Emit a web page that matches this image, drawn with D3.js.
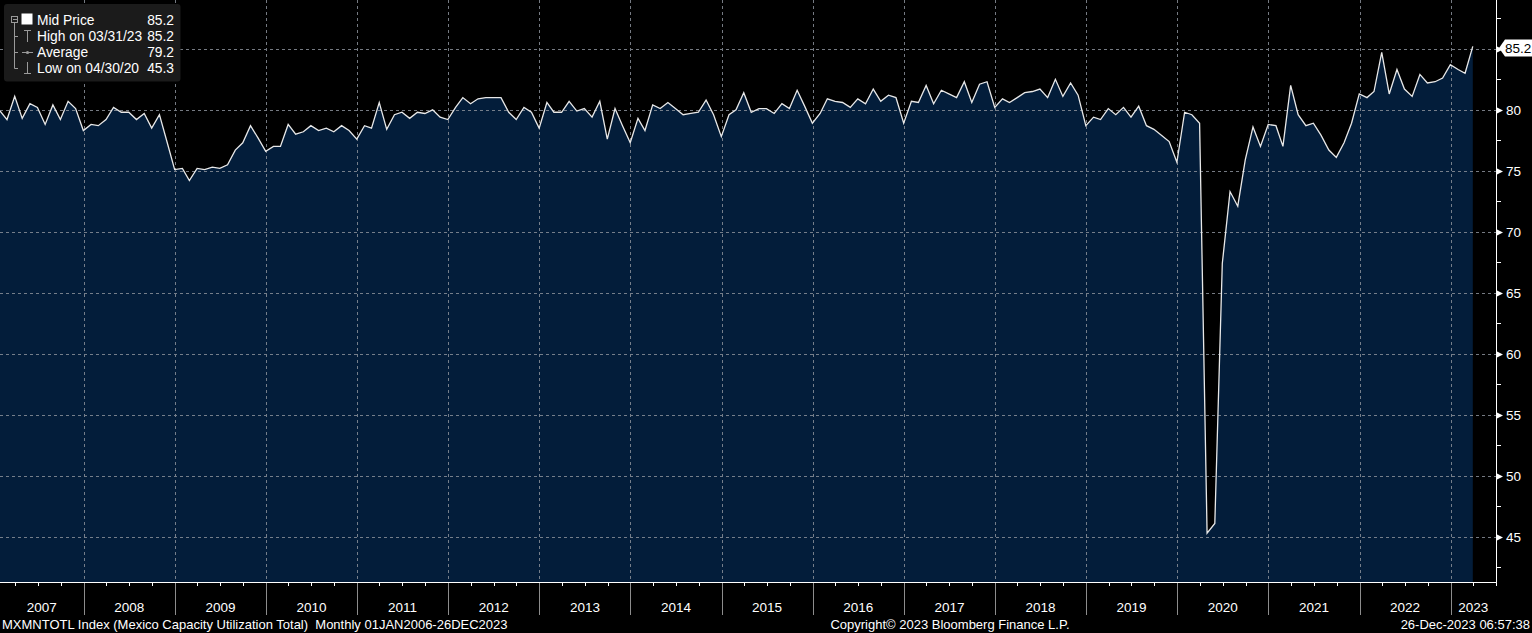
<!DOCTYPE html>
<html><head><meta charset="utf-8">
<script src="https://cdn.jsdelivr.net/npm/d3@7"></script>
<style>html,body{margin:0;padding:0;background:#000;overflow:hidden}svg{display:block}</style>
</head><body>
<svg id="c" width="1532" height="633"></svg>
<script>
// ---- data: Mexico capacity utilization, month-end values ----
const firstYear = 2007;
const v2007 = [79.9, 79.2, 81.1, 79.3, 80.5, 80.2, 78.8, 80.4, 79.2, 80.7, 80.1, 78.3];
const v2008 = [78.8, 78.7, 79.2, 80.2, 79.8, 79.8, 79.2, 79.7, 78.5, 79.6, 77.4, 75.1];
const v2009 = [75.2, 74.2, 75.2, 75.1, 75.3, 75.2, 75.5, 76.7, 77.3, 78.7, 77.7, 76.6];
const v2010 = [77.0, 77.0, 78.8, 78.0, 78.2, 78.7, 78.3, 78.5, 78.2, 78.7, 78.3, 77.6];
const v2011 = [78.7, 78.5, 80.6, 78.4, 79.6, 79.8, 79.3, 79.8, 79.7, 80.0, 79.4, 79.2];
const v2012 = [80.2, 81.0, 80.5, 80.9, 81.0, 81.0, 81.0, 79.8, 79.2, 80.2, 79.8, 78.5];
const v2013 = [80.6, 79.8, 79.8, 80.7, 79.9, 80.1, 79.4, 80.7, 77.6, 80.1, 78.7, 77.3];
const v2014 = [79.3, 78.3, 80.4, 80.1, 80.6, 80.1, 79.6, 79.7, 79.8, 80.8, 79.6, 77.8];
const v2015 = [79.6, 80.0, 81.4, 79.8, 80.1, 80.1, 79.7, 80.5, 80.1, 81.6, 80.3, 78.9];
const v2016 = [79.7, 80.9, 80.7, 80.6, 80.2, 80.9, 80.5, 81.7, 80.7, 81.2, 81.0, 78.9];
const v2017 = [80.7, 80.6, 82.0, 80.5, 81.6, 81.3, 81.0, 82.3, 80.6, 82.1, 82.3, 80.2];
const v2018 = [80.9, 80.6, 81.0, 81.4, 81.5, 81.7, 81.0, 82.5, 81.1, 82.2, 81.2, 78.7];
const v2019 = [79.4, 79.2, 80.1, 79.6, 80.2, 79.4, 80.3, 78.7, 78.4, 77.9, 77.4, 75.7];
const v2020 = [79.8, 79.6, 78.9, 45.3, 46.1, 67.4, 73.3, 72.1, 75.9, 78.6, 77.0, 78.8];
const v2021 = [78.7, 77.0, 82.0, 79.6, 78.7, 78.9, 77.9, 76.7, 76.1, 77.3, 78.9, 81.3];
const v2022 = [81.0, 81.5, 84.7, 81.3, 83.3, 81.7, 81.1, 82.9, 82.2, 82.3, 82.6, 83.7];
const v2023 = [83.3, 83.0, 85.2];

const yMajorTicks = [45, 50, 55, 60, 65, 70, 75, 80, 85];
const yMinorTicks = [42.5, 47.5, 52.5, 57.5, 62.5, 67.5, 72.5, 77.5, 82.5, 87.5];
const yearLabels = [2007,2008,2009,2010,2011,2012,2013,2014,2015,2016,2017,2018,2019,2020,2021,2022,2023];
const legendLabels = ["Mid Price", "High on 03/31/23", "Average", "Low on 04/30/20"];
const legendValues = ["85.2", "85.2", "79.2", "45.3"];
const lastValueLabel = "85.2";
const footerLeft = "MXMNTOTL Index (Mexico Capacity Utilization Total)  Monthly 01JAN2006-26DEC2023";
const footerMid = "Copyright\u00A9 2023 Bloomberg Finance L.P.";
const footerRight = "26-Dec-2023 06:57:38";

// ---- build table ----
const allValues = [].concat(v2007, v2008, v2009, v2010, v2011, v2012, v2013, v2014,
  v2015, v2016, v2017, v2018, v2019, v2020, v2021, v2022, v2023);
const data = allValues.map((v, i) => ({ date: new Date(Date.UTC(firstYear, i + 1, 0)), v }));

// ---- layout ----
const W = 1532, H = 633;
const plotL = 0, plotR = 1496, plotT = 0, plotB = 582;
const FONT = "'Liberation Sans', Arial, sans-serif";

const svg = d3.select("#c");
svg.append("rect").attr("width", W).attr("height", H).attr("fill", "#000");

const x = d3.scaleUtc()
  .domain([new Date(Date.UTC(2007, 0, 31)), new Date(Date.UTC(2023, 6, 2))])
  .range([plotL, plotR]);
const y = d3.scaleLinear().domain([41.3, 89.0]).range([plotB, plotT]);

// area
const area = d3.area().x(d => x(d.date)).y0(plotB).y1(d => y(d.v));
svg.append("path").datum(data).attr("d", area).attr("fill", "#031d3a");

// grid
const yearStarts = yearLabels.slice(1).map(yr => new Date(Date.UTC(yr, 0, 1)));
const grid = svg.append("g").attr("stroke", "#8a9099").attr("stroke-width", 1)
  .attr("stroke-dasharray", "3,3").attr("opacity", 0.85);
grid.selectAll("line.h").data(yMajorTicks).join("line")
  .attr("x1", plotL).attr("x2", plotR)
  .attr("y1", d => Math.round(y(d)) + 0.5).attr("y2", d => Math.round(y(d)) + 0.5);
grid.selectAll("line.v").data(yearStarts).join("line")
  .attr("x1", d => Math.round(x(d)) + 0.5).attr("x2", d => Math.round(x(d)) + 0.5)
  .attr("y1", plotT).attr("y2", plotB);

// line
const line = d3.line().x(d => x(d.date)).y(d => y(d.v));
svg.append("path").datum(data).attr("d", line).attr("fill", "none")
  .attr("stroke", "#e8e8e8").attr("stroke-width", 1.3).attr("stroke-linejoin", "miter");

// right axis
svg.append("line").attr("x1", plotR + 0.5).attr("x2", plotR + 0.5)
  .attr("y1", 0).attr("y2", plotB + 0.5).attr("stroke", "#fff").attr("stroke-width", 1);
const ra = svg.append("g");
ra.selectAll("path.tri").data(yMajorTicks).join("path")
  .attr("d", d => { const yy = Math.round(y(d)) + 0.5; return `M${plotR + 1},${yy - 3}L${plotR + 7},${yy}L${plotR + 1},${yy + 3}Z`; })
  .attr("fill", "#fff");
ra.selectAll("line.minor").data(yMinorTicks).join("line")
  .attr("x1", plotR).attr("x2", plotR + 5)
  .attr("y1", d => Math.round(y(d)) + 0.5).attr("y2", d => Math.round(y(d)) + 0.5)
  .attr("stroke", "#fff");
ra.selectAll("text").data(yMajorTicks.filter(d => d !== 85)).join("text")
  .attr("x", plotR + 10).attr("y", d => y(d)).attr("dy", "0.36em")
  .attr("fill", "#fff").attr("font-family", FONT).attr("font-size", 13.5)
  .text(d => d);

// last value tag
const lastY = Math.round(y(data[data.length - 1].v)) + 0.5 + 1.5;
svg.append("path")
  .attr("d", `M${plotR + 3},${lastY}L${plotR + 9},${lastY - 8.5}L${W + 2},${lastY - 8.5}L${W + 2},${lastY + 8.5}L${plotR + 9},${lastY + 8.5}Z`)
  .attr("fill", "#fff");
svg.append("text").attr("x", plotR + 9).attr("y", lastY).attr("dy", "0.36em")
  .attr("fill", "#000").attr("font-family", FONT).attr("font-size", 13.5).text(lastValueLabel);

// bottom axis
svg.append("line").attr("x1", 0).attr("x2", plotR + 1).attr("y1", plotB + 0.5).attr("y2", plotB + 0.5)
  .attr("stroke", "#fff");
const quarterTicks = d3.utcMonth.every(3).range(x.domain()[0], x.domain()[1]);
svg.append("g").selectAll("line").data(quarterTicks).join("line")
  .attr("x1", d => Math.round(x(d)) + 0.5).attr("x2", d => Math.round(x(d)) + 0.5)
  .attr("y1", plotB).attr("y2", plotB + 4).attr("stroke", "#fff");
svg.append("g").selectAll("line").data(yearStarts).join("line")
  .attr("x1", d => Math.round(x(d)) + 0.5).attr("x2", d => Math.round(x(d)) + 0.5)
  .attr("y1", plotB + 1).attr("y2", plotB + 33).attr("stroke", "#8c8c8c");
svg.append("g").selectAll("text").data(yearLabels).join("text")
  .attr("x", yr => {
    const a = Math.max(x.range()[0], x(new Date(Date.UTC(yr, 0, 1))));
    const b = Math.min(x.range()[1], x(new Date(Date.UTC(yr + 1, 0, 1))));
    return (a + b) / 2;
  })
  .attr("y", 612).attr("text-anchor", "middle")
  .attr("fill", "#fff").attr("font-family", FONT).attr("font-size", 13.5)
  .text(d => d);

// footer
const ft = svg.append("g").attr("fill", "#fff").attr("font-family", FONT).attr("font-size", 13);
ft.append("text").attr("x", 2).attr("y", 629).text(footerLeft).style("white-space", "pre");
ft.append("text").attr("x", 950).attr("y", 629).attr("text-anchor", "middle").text(footerMid);
ft.append("text").attr("x", 1530).attr("y", 629).attr("text-anchor", "end").text(footerRight);

// legend
const lg = svg.append("g");
lg.append("rect").attr("x", 4).attr("y", 4).attr("width", 176.5).attr("height", 77.5)
  .attr("rx", 3).attr("fill", "#1b1b1b");
const rowY = [20.5, 36.5, 52.5, 68.5];
lg.selectAll("text.lab").data(legendLabels).join("text")
  .attr("x", 37).attr("y", (d, i) => rowY[i]).attr("dy", "0.36em")
  .attr("fill", "#fff").attr("font-family", FONT).attr("font-size", 13.8).text(d => d);
lg.selectAll("text.val").data(legendValues).join("text")
  .attr("x", 174).attr("y", (d, i) => rowY[i]).attr("dy", "0.36em").attr("text-anchor", "end")
  .attr("fill", "#fff").attr("font-family", FONT).attr("font-size", 13.8).text(d => d);
const ic = lg.append("g").attr("stroke", "#9a9a9a").attr("fill", "none").attr("stroke-width", 1);
ic.append("rect").attr("x", 11.5).attr("y", 16.5).attr("width", 6).attr("height", 6);
ic.append("line").attr("x1", 13).attr("x2", 17).attr("y1", 19.5).attr("y2", 19.5);
ic.append("line").attr("x1", 14.5).attr("x2", 14.5).attr("y1", 23).attr("y2", 68.5);
[36.5, 52.5, 68.5].forEach(yy => ic.append("line").attr("x1", 14.5).attr("x2", 18).attr("y1", yy).attr("y2", yy));
lg.append("rect").attr("x", 21.5).attr("y", 13.5).attr("width", 11).attr("height", 11).attr("fill", "#fff");
// high icon
ic.append("line").attr("x1", 24).attr("x2", 31).attr("y1", 30.5).attr("y2", 30.5);
ic.append("line").attr("x1", 27.5).attr("x2", 27.5).attr("y1", 30.5).attr("y2", 42);
// average icon
ic.append("line").attr("x1", 22).attr("x2", 33).attr("y1", 52.5).attr("y2", 52.5);
lg.append("circle").attr("cx", 27.5).attr("cy", 52.5).attr("r", 1.6).attr("fill", "#9a9a9a");
// low icon
ic.append("line").attr("x1", 27.5).attr("x2", 27.5).attr("y1", 62).attr("y2", 73.5);
ic.append("line").attr("x1", 24).attr("x2", 31).attr("y1", 73.5).attr("y2", 73.5);
</script>
</body></html>
